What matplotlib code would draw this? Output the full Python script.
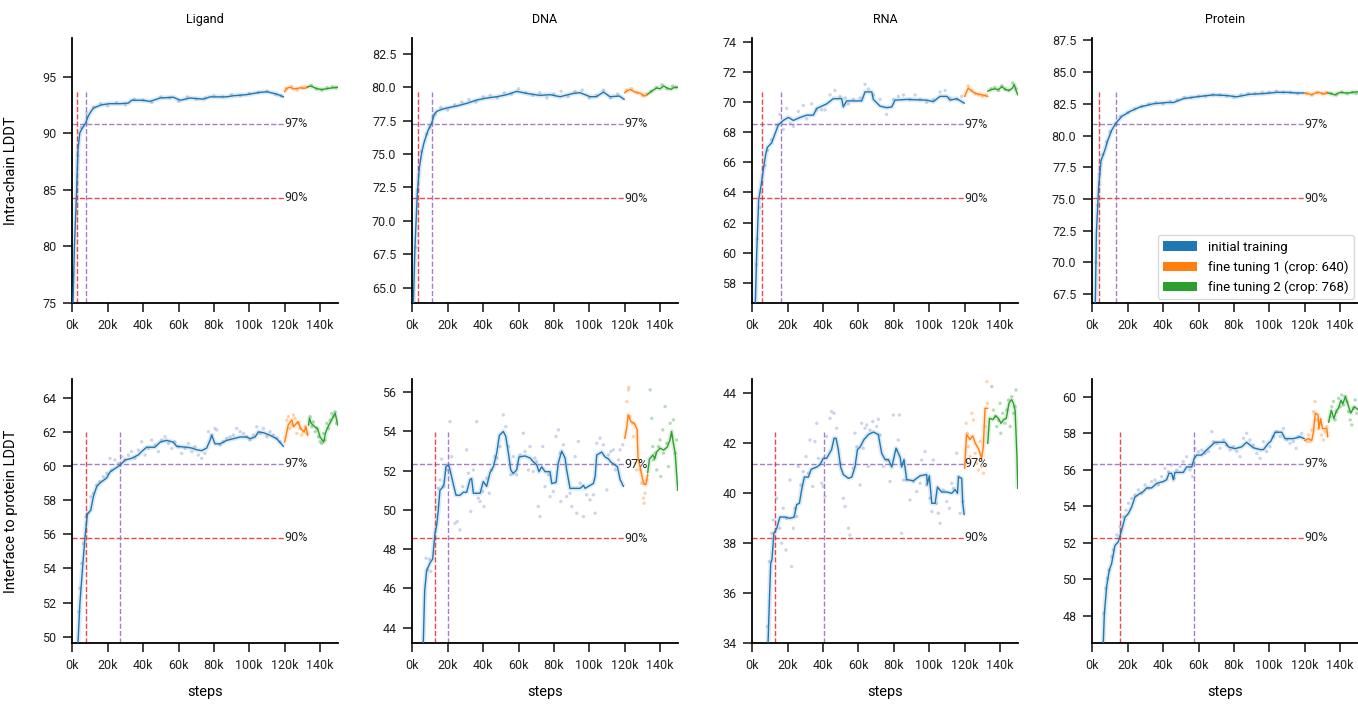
# 训练曲线: 各分子类型的 LDDT 随训练步数变化
import numpy as np
import matplotlib.pyplot as plt
from matplotlib.patches import Patch
from matplotlib.ticker import MultipleLocator, FuncFormatter

plt.rcParams['font.family'] = ['Roboto', 'DejaVu Sans']

# ---------------- 数据 (steps 单位: k) ----------------
# 上排: Intra-chain LDDT
lig_top_init = [(0.0, 70.0), (0.4, 75.0), (1.2, 80.0), (2.3, 84.3), (3.2, 88.5), (4.2, 90.0), (5.5, 90.4),
                (7.6, 90.9), (9.0, 91.5), (10.5, 91.9), (11.9, 92.2), (14, 92.35), (16.6, 92.5), (21, 92.6),
                (27, 92.6), (31.7, 92.65), (33.5, 92.9), (40, 92.9), (43.9, 92.8), (49.6, 93.1), (57, 93.17),
                (61, 92.9), (66.5, 93.1), (74, 93.0), (77.8, 93.2), (87, 93.2), (91, 93.3), (98.5, 93.4),
                (106, 93.6), (110, 93.65), (115.5, 93.45), (119.3, 93.2)]
lig_top_ft1 = [(120, 93.65), (121, 93.95), (123, 94.05), (125, 93.9), (127, 93.95), (129, 94.0), (131, 93.95), (133, 94.05)]
lig_top_ft2 = [(133, 94.1), (135, 94.15), (137, 94.0), (139, 93.9), (141, 93.85), (143, 93.9), (145, 93.95),
               (147, 94.0), (150, 94.05)]
lig_top_pts = [(3, 88.0), (5, 90.5), (8, 91.8), (12, 92.3), (16, 92.6), (20, 92.4), (25, 92.7), (30, 92.5), (35, 93.0),
               (40, 92.9), (45, 92.7), (50, 93.2), (55, 93.1), (60, 92.8), (65, 93.2), (70, 93.0), (75, 93.1),
               (80, 93.3), (85, 93.2), (90, 93.4), (95, 93.3), (100, 93.5), (105, 93.6), (110, 93.7), (115, 93.4),
               (118, 93.3)]
lig_top_pts_ft1 = [(121, 93.9), (124, 94.1), (127, 93.8), (130, 94.0), (132, 94.1)]
lig_top_pts_ft2 = [(135, 94.2), (138, 93.9), (141, 93.8), (144, 94.0), (147, 94.1), (149, 94.0)]

dna_top_init = [(0.0, 60.0), (0.6, 63.8), (1.5, 68.0), (2.8, 72.0), (4.0, 74.0), (5.3, 75.1), (6.5, 75.8), (7.7, 76.3),
                (9.0, 76.8), (10.9, 77.3), (12.5, 78.0), (13.8, 78.2), (16.5, 78.35), (19.4, 78.45), (25, 78.6),
                (30.7, 78.8), (36.4, 79.05), (42, 79.2), (47.7, 79.3), (53.3, 79.45), (59, 79.7), (64.6, 79.55),
                (72, 79.4), (77.8, 79.45), (83.5, 79.3), (91, 79.55), (94.8, 79.6), (100.4, 79.3), (104, 79.3),
                (108, 79.65), (111.7, 79.3), (117, 79.35), (119.7, 79.1)]
dna_top_ft1 = [(120, 79.6), (121.5, 79.75), (123, 79.85), (125, 79.7), (127, 79.6), (129, 79.55), (131, 79.35), (133, 79.45)]
dna_top_ft2 = [(133, 79.5), (135, 79.7), (138, 79.95), (140, 79.9), (142, 80.1), (144, 79.95), (146, 79.85),
               (148, 80.0), (150, 80.0)]
dna_top_pts = [(2, 68.0), (3, 72.3), (5, 75.2), (8, 76.5), (10, 77.0), (13, 78.0), (16, 78.5), (20, 78.3), (24, 78.7),
               (28, 78.9), (32, 79.1), (36, 78.9), (40, 79.3), (44, 79.4), (48, 79.2), (52, 79.6), (56, 79.5),
               (60, 79.9), (64, 79.6), (68, 79.4), (72, 79.6), (76, 79.2), (80, 79.5), (84, 79.7), (88, 79.3),
               (92, 79.7), (96, 79.8), (100, 79.2), (104, 79.4), (108, 79.8), (112, 79.2), (116, 79.5)]
dna_top_pts_ft1 = [(121, 79.8), (124, 79.9), (127, 79.6), (130, 79.4), (132, 79.5)]
dna_top_pts_ft2 = [(135, 79.7), (138, 80.0), (141, 80.2), (144, 79.9), (147, 80.1), (149, 80.0)]

rna_top_init = [(0.5, 50.0), (1.7, 56.6), (2.5, 60.0), (3.6, 63.5), (5.0, 64.5), (6.2, 65.5), (7.5, 66.5), (8.5, 67.0),
                (10.9, 67.3), (12.8, 67.9), (14.7, 68.5), (17.5, 68.8), (20.4, 69.0), (23.2, 68.8), (27, 69.0),
                (30.7, 69.15), (34.5, 69.15), (36.4, 69.6), (42, 69.9), (45.8, 70.25), (50.5, 70.25), (51.4, 69.7),
                (53.3, 70.1), (61.8, 70.1), (63.7, 70.7), (67.5, 70.7), (68.4, 70.2), (72.2, 69.75), (75.9, 69.65),
                (78.8, 69.7), (80.6, 70.15), (87.2, 70.2), (98.5, 70.15), (102.3, 70.05), (106, 70.4), (110, 70.4),
                (111.7, 70.15), (115.5, 70.25), (119.7, 69.95)]
rna_top_ft1 = [(120, 70.4), (121, 70.7), (122, 70.95), (124, 70.75), (126, 70.6), (128, 70.55), (130, 70.5), (133, 70.4)]
rna_top_ft2 = [(133, 70.75), (135, 70.85), (137, 70.9), (139, 70.85), (141, 71.05), (143, 70.85), (145, 70.8),
               (147, 70.95), (148, 71.2), (149, 70.8), (150, 70.5)]
rna_top_pts = [(2.4, 59.2), (2.8, 60.9), (4.3, 63.0), (5.3, 64.0), (7.2, 65.8), (8.5, 66.8), (10.9, 67.5), (13.8, 68.5),
               (15.6, 69.2), (17.5, 68.2), (19.4, 69.6), (21.3, 68.6), (23.2, 68.4), (26.0, 69.4), (28.8, 69.8),
               (30.7, 68.9), (33.5, 69.9), (36.4, 69.5), (39.2, 69.5), (41.1, 69.5), (43.9, 70.5), (46.7, 70.8),
               (49.6, 70.4), (52.4, 70.3), (54.3, 69.9), (57.1, 70.2), (60.9, 70.3), (63.7, 71.2), (65.6, 70.9),
               (68.4, 70.5), (72.2, 70.2), (75.9, 69.2), (79.7, 70.2), (82.5, 70.4), (85.4, 70.5), (89.1, 70.2),
               (92.0, 70.5), (94.8, 70.2), (98.5, 70.0), (102.3, 70.2), (106.1, 70.7), (108.9, 70.8), (111.7, 70.3),
               (115.5, 70.2), (118.3, 70.4)]
rna_top_pts_ft1 = [(122, 71.1), (124, 70.8), (126, 70.6), (128, 70.5), (130, 70.4), (132, 70.5)]
rna_top_pts_ft2 = [(135, 70.9), (137, 71.0), (139, 70.8), (141, 71.1), (143, 70.9), (145, 70.8), (147, 71.3), (149, 70.9)]

pro_top_init = [(0.5, 60.0), (1.7, 66.8), (2.3, 72.3), (3.6, 76.0), (4.9, 78.0), (7.2, 78.9), (8.7, 79.6), (10.9, 80.4),
                (13.2, 80.95), (16.6, 81.5), (21.3, 81.9), (27, 82.25), (34.5, 82.5), (42, 82.6), (45.8, 82.6),
                (51.4, 82.9), (59, 83.05), (68.4, 83.2), (75.9, 83.15), (81.6, 83.05), (89, 83.25), (96.7, 83.3),
                (104, 83.4), (110, 83.4), (115.5, 83.35), (119.7, 83.35)]
pro_top_ft1 = [(120, 83.35), (122, 83.3), (124, 83.2), (126, 83.35), (128, 83.4), (130, 83.3), (131, 83.25), (133, 83.4)]
pro_top_ft2 = [(133, 83.35), (135, 83.3), (137, 83.2), (139, 83.35), (141, 83.4), (143, 83.35), (145, 83.35),
               (147, 83.4), (150, 83.45)]
pro_top_pts = [(2, 70.0), (3, 74.5), (4, 77.0), (6, 78.5), (8, 79.5), (10, 80.3), (13, 80.9), (16, 81.5), (20, 81.8),
               (24, 82.1), (28, 82.3), (32, 82.5), (36, 82.6), (40, 82.5), (44, 82.7), (48, 82.8), (52, 83.0),
               (56, 83.0), (60, 83.1), (64, 83.1), (68, 83.2), (72, 83.2), (76, 83.1), (80, 83.0), (84, 83.2),
               (88, 83.3), (92, 83.3), (96, 83.4), (100, 83.4), (104, 83.5), (108, 83.4), (112, 83.4), (116, 83.3)]
pro_top_pts_ft1 = [(121, 83.3), (124, 83.2), (127, 83.4), (130, 83.3), (132, 83.4)]
pro_top_pts_ft2 = [(135, 83.3), (138, 83.2), (141, 83.4), (144, 83.3), (147, 83.4), (149, 83.3)]

# 下排: Interface to protein LDDT
lig_bot_init = [(2.5, 47.0), (3.2, 49.6), (4.3, 51.95), (5.7, 53.9), (7.2, 55.85), (8.5, 57.2), (10.4, 57.4),
                (11.9, 58.2), (13.8, 58.8), (15.6, 59.0), (19.4, 59.3), (21.3, 59.65), (24.1, 59.85), (27, 60.05),
                (29.8, 60.35), (33.5, 60.45), (37.3, 60.65), (39.2, 60.85), (42, 61.1), (46.7, 61.1), (49.6, 61.4),
                (53.3, 61.5), (57, 61.4), (59, 61.15), (64.6, 61.1), (67.5, 61.05), (70.3, 60.95), (73.1, 60.9),
                (75.9, 61.05), (77.8, 61.5), (78.8, 61.8), (80.6, 61.3), (83.5, 61.3), (87.2, 61.5), (91, 61.6),
                (94.8, 61.7), (98.5, 61.7), (100.4, 61.6), (103.3, 61.7), (105.1, 62.0), (108, 61.95), (111.7, 61.8),
                (115.5, 61.6), (119.3, 61.15)]
lig_bot_ft1 = [(120, 61.4), (122, 62.4), (124, 62.7), (125, 62.3), (127.5, 62.6), (129, 62.2), (131, 62.0),
               (132, 62.3), (133, 61.8)]
lig_bot_ft2 = [(133.5, 62.4), (134, 62.8), (135, 62.5), (137, 62.3), (138.5, 62.2), (140, 61.7), (142, 61.4),
               (143, 61.9), (144, 62.2), (146, 62.6), (148.5, 63.1), (150, 62.4)]
lig_bot_pts = [(3.6, 51.46), (4.3, 52.83), (5.3, 54.29), (6.2, 55.46), (7.7, 57.03), (9.0, 57.22), (10.4, 58.2),
               (11.9, 58.39), (13.8, 58.88), (15.6, 59.08), (17.5, 59.37), (19.4, 59.57), (21.3, 60.45), (22.2, 59.76),
               (24.1, 60.35), (26.0, 60.15), (27.9, 60.54), (29.8, 60.35), (31.7, 60.64), (33.5, 60.84), (35.4, 60.45),
               (37.3, 60.93), (39.2, 61.42), (41.1, 60.64), (43.0, 61.03), (44.8, 61.52), (46.7, 61.23), (48.6, 60.84),
               (50.5, 61.52), (52.4, 61.71), (54.3, 61.32), (56.2, 61.03), (58.0, 61.42), (59.9, 61.13), (61.8, 60.74),
               (63.7, 61.03), (65.6, 61.32), (67.5, 60.84), (69.3, 61.13), (71.2, 60.64), (73.1, 60.45), (75.0, 60.74),
               (76.9, 62.01), (78.8, 61.81), (80.6, 62.2), (81.6, 62.11), (83.5, 61.23), (85.4, 61.42), (87.2, 61.62),
               (89.1, 61.71), (91.0, 61.81), (92.9, 62.2), (94.8, 62.01), (96.7, 61.91), (98.5, 61.71), (100.4, 61.52),
               (102.3, 61.81), (104.2, 62.3), (106.1, 61.91), (108.0, 62.2), (109.9, 61.71), (111.7, 62.01),
               (113.6, 61.81), (115.5, 61.62), (117.4, 61.42)]
lig_bot_pts_ft1 = [(121.2, 62.69), (122.1, 62.89), (123.0, 62.2), (124.0, 62.4), (124.9, 62.98), (125.9, 62.79),
                   (126.8, 61.91), (127.8, 62.5), (128.7, 62.2), (129.6, 61.81), (130.6, 62.01), (131.5, 62.3),
                   (132.5, 61.91)]
lig_bot_pts_ft2 = [(134.4, 62.89), (135.3, 62.3), (136.2, 62.59), (137.2, 62.01), (138.1, 62.2), (139.1, 61.71),
                   (140.0, 61.42), (140.9, 61.32), (141.9, 61.91), (142.8, 61.52), (143.8, 62.5), (144.7, 62.2),
                   (145.7, 62.69), (146.6, 63.08), (147.5, 62.89), (148.5, 63.18), (149.4, 62.5)]

dna_bot_init = [(5.8, 42.0), (6.2, 43.2), (7.0, 45.9), (8.1, 46.9), (10.0, 47.3), (11.5, 47.5), (12.8, 48.8),
                (13.8, 49.25), (14.7, 50.0), (15.6, 51.0), (16.6, 51.1), (17.9, 51.3), (19.0, 52.2), (20.4, 52.3),
                (21.3, 52.05), (22.8, 51.45), (24.7, 50.75), (27, 50.75), (28.8, 50.9), (30.7, 50.9), (32.6, 51.55),
                (33.5, 51.6), (34.5, 50.85), (38.3, 50.85), (40.1, 51.45), (42, 51.2), (43.9, 51.9), (45.8, 52.2),
                (47.7, 52.9), (49.2, 53.8), (51.4, 54.0), (52.8, 53.75), (54.3, 52.9), (55.6, 52.05), (57, 51.85),
                (59, 52.05), (60.3, 52.7), (63.7, 52.75), (66.5, 52.65), (68.4, 52.45), (70.3, 52.3), (71.6, 51.95),
                (73.1, 52.2), (75, 51.95), (77.8, 51.95), (78.8, 51.35), (81.2, 51.4), (82.5, 52.4), (84.4, 53.0),
                (86.3, 52.65), (87.2, 52.05), (89.1, 51.1), (94.8, 51.1), (96.7, 51.25), (97.6, 51.1), (102.3, 51.35),
                (103.3, 51.7), (104.2, 52.8), (107, 52.95), (108.9, 52.7), (110.8, 52.6), (112.1, 52.45),
                (113.6, 52.35), (115.9, 52.2), (117.4, 51.55), (119.3, 51.2)]
dna_bot_ft1 = [(120, 53.65), (121, 54.1), (122, 54.85), (123.5, 54.5), (125.5, 54.4), (127, 54.1), (127.5, 52.7),
               (129, 52.05), (130, 51.6), (131, 51.3), (132, 51.3), (133, 51.8)]
dna_bot_ft2 = [(133, 51.9), (134, 52.6), (136, 52.8), (137, 52.6), (138, 52.95), (140, 53.15), (142, 53.05),
               (144, 53.2), (145.5, 53.55), (146.5, 54.0), (147.5, 53.4), (148.5, 52.9), (150, 51.0)]
dna_bot_pts = [(7.7, 47.54), (8.5, 46.94), (9.6, 47.49), (10.4, 46.86), (13.4, 50.17), (14.7, 51.11), (15.6, 51.53),
               (16.6, 52.59), (17.9, 51.19), (19.4, 52.04), (21.3, 54.5), (22.2, 52.72), (24.1, 49.32), (25.4, 49.41),
               (26.9, 48.98), (28.5, 51.19), (30.7, 53.06), (31.7, 51.87), (33.0, 49.92), (34.5, 52.04), (36.4, 54.5),
               (37.3, 50.6), (38.3, 50.43), (39.8, 50.94), (40.5, 50.17), (42.0, 51.62), (43.5, 50.85), (44.8, 52.04),
               (46.7, 52.72), (48.0, 52.64), (49.6, 53.23), (51.4, 54.84), (52.8, 54.25), (54.3, 53.23), (55.6, 51.79),
               (57.1, 52.72), (59.0, 51.79), (60.9, 52.81), (62.7, 53.91), (63.7, 52.98), (65.6, 52.04), (66.5, 53.23),
               (68.4, 51.96), (69.3, 52.64), (70.3, 52.47), (71.2, 50.17), (72.2, 49.66), (73.7, 53.23), (75.0, 51.19),
               (76.9, 51.79), (77.8, 50.68), (79.7, 50.94), (81.2, 53.74), (82.5, 54.08), (83.5, 52.89), (83.9, 50.43),
               (85.4, 53.32), (87.2, 50.68), (89.1, 50.85), (90.1, 50.17), (92.0, 52.72), (92.9, 49.83), (93.8, 53.49),
               (94.8, 51.36), (96.7, 49.66), (98.5, 50.77), (100.4, 50.51), (102.3, 50.77), (103.3, 49.83),
               (104.2, 53.4), (106.1, 53.66), (108.0, 53.32), (109.9, 51.02), (110.8, 52.81), (112.1, 52.98),
               (113.6, 53.06), (114.6, 52.04), (116.5, 52.55), (117.4, 53.06), (118.9, 53.32)]
dna_bot_pts_ft1 = [(121.2, 55.52), (122.1, 56.12), (122.3, 56.25), (123.0, 54.76), (124.6, 54.42), (124.9, 53.74),
                   (125.9, 52.38), (126.8, 52.04), (128.7, 52.04), (129.6, 51.36), (130.6, 50.6), (131.0, 50.34),
                   (131.5, 50.85), (132.5, 51.53)]
dna_bot_pts_ft2 = [(134.4, 56.12), (135.3, 54.67), (135.9, 53.23), (136.2, 52.55), (137.2, 52.89), (138.1, 52.04),
                   (139.1, 53.23), (140.0, 53.57), (140.4, 51.7), (141.5, 54.08), (141.9, 52.89), (142.8, 55.27),
                   (143.8, 53.4), (144.7, 52.21), (145.7, 54.42), (146.6, 53.74), (147.5, 54.59), (148.5, 52.89),
                   (149.4, 53.57)]

rna_bot_init = [(8.6, 33.0), (8.9, 34.0), (9.6, 35.6), (10.4, 37.2), (11.1, 37.35), (12.2, 38.4), (13.8, 38.6),
                (15.6, 39.05), (18.5, 39.05), (21.3, 39.0), (23.6, 39.05), (25.1, 39.55), (26.6, 39.6), (27.9, 40.15),
                (29.4, 40.65), (31.7, 40.65), (33.2, 40.95), (34.5, 41.0), (36.4, 41.05), (38.3, 41.15), (40.1, 41.4),
                (42, 41.4), (44.8, 41.75), (46.2, 42.2), (47.3, 42.2), (48.6, 41.75), (49.9, 41.05), (51.4, 40.75),
                (54.3, 40.6), (56.2, 40.65), (58, 41.05), (59.4, 41.75), (60.9, 41.85), (63.1, 42.15), (65.6, 42.35),
                (68.4, 42.45), (71.2, 42.35), (73.1, 41.6), (75, 41.35), (76.9, 41.35), (78.8, 41.05), (81.2, 41.8),
                (83.5, 41.45), (84.4, 41.05), (85.7, 41.35), (87.2, 40.55), (91, 40.5), (94.8, 40.7), (98.5, 40.75),
                (98.9, 40.35), (100, 40.7), (101.4, 39.6), (103.3, 39.6), (104.6, 40.25), (107, 40.05),
                (109.9, 40.05), (112.7, 40.0), (114.6, 40.15), (115.9, 40.0), (116.5, 40.65), (118.3, 40.6),
                (118.9, 39.6), (119.7, 39.15)]
rna_bot_ft1 = [(120, 41.0), (121, 42.35), (123, 42.15), (124.5, 42.3), (126, 42.0), (128, 41.75), (129.5, 41.4),
               (130.5, 41.85), (131.5, 43.4), (133, 43.4)]
rna_bot_ft2 = [(133, 42.0), (134, 43.0), (136, 42.95), (137.5, 43.1), (139, 43.0), (140.5, 42.8), (142, 42.95),
               (143.5, 43.0), (145, 43.6), (146.5, 43.75), (147.5, 43.6), (148.5, 43.3), (149.5, 41.5), (150, 40.2)]
rna_bot_pts = [(8.5, 34.67), (9.6, 37.27), (10.9, 38.4), (11.9, 38.93), (13.8, 39.8), (15.6, 38.6), (16.6, 38.0),
               (17.5, 39.4), (19.0, 37.73), (19.4, 39.0), (21.3, 40.53), (22.2, 37.07), (23.2, 38.6), (24.1, 39.4),
               (25.1, 39.07), (26.0, 41.07), (27.3, 40.33), (28.8, 40.87), (30.3, 41.47), (31.7, 40.8), (32.6, 42.13),
               (34.1, 40.27), (35.4, 42.07), (36.4, 42.8), (37.3, 41.4), (39.2, 40.4), (40.1, 40.27), (41.1, 39.87),
               (42.0, 42.27), (43.9, 43.0), (44.8, 43.27), (46.2, 43.2), (47.7, 42.6), (49.6, 41.2), (51.4, 39.8),
               (52.4, 39.47), (54.3, 38.6), (55.2, 38.33), (57.1, 41.0), (58.0, 42.4), (59.0, 41.87), (60.9, 40.33),
               (61.8, 42.8), (62.7, 41.8), (63.7, 42.6), (64.6, 42.73), (65.6, 41.07), (66.5, 42.53), (68.0, 42.87),
               (70.3, 42.67), (71.2, 42.96), (72.2, 42.33), (74.1, 41.07), (75.9, 41.33), (77.8, 40.47), (79.7, 43.13),
               (81.6, 41.73), (82.5, 42.13), (83.1, 43.13), (84.4, 38.4), (85.4, 40.53), (87.2, 40.53), (89.1, 39.73),
               (91.0, 40.47), (92.9, 40.07), (94.8, 40.4), (95.7, 41.33), (97.6, 41.67), (98.5, 40.33), (100.4, 39.8),
               (101.4, 39.27), (102.3, 41.33), (104.2, 39.6), (105.1, 39.2), (106.1, 38.8), (108.0, 40.13),
               (109.9, 39.67), (111.4, 39.4), (112.7, 40.4), (113.6, 40.2), (115.5, 41.6), (116.5, 40.67),
               (117.4, 39.2), (118.9, 39.67)]
rna_bot_pts_ft1 = [(120.8, 42.8), (121.5, 42.4), (122.1, 41.87), (123.0, 41.47), (124.0, 43.2), (124.9, 42.93),
                   (125.9, 41.6), (126.8, 41.2), (127.8, 40.93), (128.7, 42.07), (129.6, 41.07), (130.6, 40.8),
                   (131.5, 42.67), (132.5, 44.47), (132.8, 43.6)]
rna_bot_pts_ft2 = [(135.3, 44.27), (136.2, 43.33), (137.2, 43.07), (138.1, 42.67), (139.1, 42.93), (140.0, 43.6),
                   (140.4, 42.4), (141.5, 43.2), (142.8, 42.8), (143.8, 43.33), (144.7, 43.73), (145.7, 42.67),
                   (146.6, 43.87), (147.5, 43.2), (148.5, 43.47), (149.0, 44.13)]

pro_bot_init = [(6.0, 45.5), (6.2, 46.5), (6.8, 48.1), (8.1, 49.6), (9.6, 50.5), (10.9, 50.85), (12.8, 51.85),
                (14.7, 52.05), (16.6, 52.7), (18.5, 53.4), (20.4, 53.6), (22.2, 53.95), (24.1, 54.5), (27, 54.7),
                (28.8, 54.8), (30.7, 55.0), (33.5, 55.0), (36.4, 55.25), (40.1, 55.35), (42, 55.45), (43.3, 55.8),
                (44.8, 55.8), (45.8, 55.45), (46.7, 55.85), (51.4, 55.85), (53.3, 56.15), (56.2, 56.15), (57.5, 56.6),
                (59, 56.8), (61.8, 56.8), (63.7, 57.0), (66.5, 57.25), (69.3, 57.5), (75, 57.5), (76.9, 57.25),
                (80.6, 57.15), (84.4, 57.25), (87.2, 57.5), (89.1, 57.35), (91, 57.2), (94.8, 57.1), (96.7, 57.1),
                (99.5, 57.45), (100.8, 57.55), (103.3, 58.05), (107, 58.05), (108.9, 57.7), (113.6, 57.7),
                (117.4, 57.8), (119.7, 57.7)]
pro_bot_ft1 = [(120, 57.6), (122, 57.7), (124, 57.6), (125, 58.1), (126, 59.1), (127.5, 59.0), (128, 58.25),
               (129, 58.8), (130, 58.25), (132.5, 58.25), (133, 57.8)]
pro_bot_ft2 = [(133.5, 58.6), (135, 59.25), (136.5, 58.8), (138, 59.25), (139, 59.35), (140.5, 59.8), (141.5, 59.6),
               (143, 60.0), (144.5, 59.55), (146, 59.1), (148, 59.45), (150, 59.3)]
pro_bot_pts = [(6.6, 48.13), (7.7, 49.5), (8.5, 50.05), (9.6, 50.5), (10.9, 51.23), (11.9, 51.6), (13.8, 52.42),
               (15.6, 52.88), (17.5, 53.42), (19.0, 53.79), (20.4, 54.16), (22.2, 54.43), (24.1, 54.61), (26.0, 54.89),
               (27.9, 54.7), (29.8, 55.16), (31.7, 54.98), (33.5, 55.34), (35.4, 55.43), (37.3, 55.16), (39.2, 55.62),
               (41.1, 56.07), (43.0, 55.89), (44.8, 56.26), (46.2, 55.53), (47.7, 55.98), (49.6, 56.16), (51.4, 56.44),
               (53.3, 56.71), (55.2, 55.98), (56.7, 55.62), (58.0, 57.17), (59.9, 56.99), (61.8, 57.08), (63.7, 56.89),
               (65.6, 56.99), (67.5, 58.08), (68.4, 57.53), (70.3, 57.44), (72.2, 57.17), (74.1, 57.63), (75.9, 57.35),
               (77.8, 57.08), (79.7, 57.26), (81.6, 56.99), (83.5, 56.71), (85.4, 57.72), (87.2, 57.99), (89.1, 57.63),
               (91.0, 57.35), (92.9, 56.89), (94.8, 56.62), (96.7, 57.53), (98.5, 56.99), (100.4, 57.26),
               (102.3, 57.81), (104.2, 58.08), (106.1, 57.81), (108.0, 58.26), (109.9, 57.63), (111.7, 57.44),
               (113.6, 57.53), (115.1, 57.17), (116.5, 57.81), (118.3, 57.99)]
pro_bot_pts_ft1 = [(121.2, 57.53), (122.1, 57.9), (123.0, 57.53), (124.0, 58.17), (124.9, 59.18), (125.9, 59.73),
                   (126.8, 58.72), (127.8, 58.26), (128.7, 58.54), (129.6, 57.9), (130.6, 57.63), (131.5, 58.08),
                   (132.5, 58.36)]
pro_bot_pts_ft2 = [(134.4, 58.9), (135.3, 59.45), (136.2, 59.73), (137.2, 58.72), (138.1, 59.18), (139.1, 59.91),
                   (140.0, 59.45), (140.9, 60.09), (141.9, 59.54), (142.8, 60.0), (143.8, 59.73), (144.7, 59.18),
                   (145.7, 58.72), (146.6, 58.45), (147.5, 59.36), (148.5, 59.82), (149.4, 59.09)]

# 100% 参考值, 达到 90% / 97% 的步数 (k)
ref_values = [93.65, 79.66, 70.68, 83.4, 61.98, 53.95, 42.46, 58.07]
steps_90 = [2.5, 3.0, 5.3, 4.0, 7.6, 12.8, 12.8, 15.8]
steps_97 = [7.6, 11.1, 16.4, 13.3, 26.9, 20.0, 40.4, 57.3]

titles = ['Ligand', 'DNA', 'RNA', 'Protein']
ylims = [(75, 98.4), (63.84, 83.7), (56.64, 74.29), (66.81, 87.68),
         (49.61, 65.08), (43.2, 56.66), (34.0, 44.56), (46.49, 60.95)]
ysteps = [5, 2.5, 2, 2.5, 2, 2, 2, 2]

panels = [
    (lig_top_init, lig_top_ft1, lig_top_ft2, lig_top_pts, lig_top_pts_ft1, lig_top_pts_ft2),
    (dna_top_init, dna_top_ft1, dna_top_ft2, dna_top_pts, dna_top_pts_ft1, dna_top_pts_ft2),
    (rna_top_init, rna_top_ft1, rna_top_ft2, rna_top_pts, rna_top_pts_ft1, rna_top_pts_ft2),
    (pro_top_init, pro_top_ft1, pro_top_ft2, pro_top_pts, pro_top_pts_ft1, pro_top_pts_ft2),
    (lig_bot_init, lig_bot_ft1, lig_bot_ft2, lig_bot_pts, lig_bot_pts_ft1, lig_bot_pts_ft2),
    (dna_bot_init, dna_bot_ft1, dna_bot_ft2, dna_bot_pts, dna_bot_pts_ft1, dna_bot_pts_ft2),
    (rna_bot_init, rna_bot_ft1, rna_bot_ft2, rna_bot_pts, rna_bot_pts_ft1, rna_bot_pts_ft2),
    (pro_bot_init, pro_bot_ft1, pro_bot_ft2, pro_bot_pts, pro_bot_pts_ft1, pro_bot_pts_ft2),
]

# ---------------- 画图 ----------------
c_blue, c_orange, c_green = '#1f77b4', '#ff7f0e', '#2ca02c'
c_red, c_purple = '#e8282b', '#9467bd'
pt_colors = ['#7585c0', c_orange, c_green]

fig = plt.figure(figsize=(13.58, 7.04), dpi=100)
W, H = 1358, 704
lefts = [72.3, 412.3, 752.3, 1092.3]
tops = [38, 379.3]
bottoms = [303, 643.3]

for i, data in enumerate(panels):
    row, col = divmod(i, 4)
    ax = fig.add_axes([lefts[col] / W, (H - bottoms[row]) / H, 265.5 / W, (bottoms[row] - tops[row]) / H])
    lines, pts = data[:3], data[3:]
    for seg, c in zip(pts, pt_colors):
        a = np.array(seg)
        ax.scatter(a[:, 0], a[:, 1], s=6, color=c, alpha=0.35, edgecolors='none', zorder=1)
    for seg, c in zip(lines, [c_blue, c_orange, c_green]):
        a = np.array(seg)
        ax.plot(a[:, 0], a[:, 1], color=c, lw=3.5, alpha=0.15, zorder=2, solid_capstyle='butt')
        ax.plot(a[:, 0], a[:, 1], color=c, lw=1.0, zorder=3)

    ref = ref_values[i]
    y0 = ylims[i][0]
    ax.plot([0, 120], [0.9 * ref] * 2, ls='--', color=c_red, lw=1, alpha=0.85, zorder=2)
    ax.plot([0, 120], [0.97 * ref] * 2, ls='--', color=c_purple, lw=1, alpha=0.85, zorder=2)
    ax.plot([steps_90[i]] * 2, [y0, ref], ls='--', color=c_red, lw=1, alpha=0.85, zorder=2)
    ax.plot([steps_97[i]] * 2, [y0, ref], ls='--', color=c_purple, lw=1, alpha=0.85, zorder=2)
    ax.text(120, 0.9 * ref, '90%', fontsize=9, va='center', ha='left', color='#222222')
    ax.text(120, 0.97 * ref, '97%', fontsize=9, va='center', ha='left', color='#222222')

    ax.set_xlim(0, 150)
    ax.set_ylim(*ylims[i])
    ax.xaxis.set_major_locator(MultipleLocator(20))
    ax.xaxis.set_major_formatter(FuncFormatter(lambda v, p: f'{v:.0f}k'))
    ax.yaxis.set_major_locator(MultipleLocator(ysteps[i]))
    if ysteps[i] == 2.5:
        ax.yaxis.set_major_formatter(FuncFormatter(lambda v, p: f'{v:.1f}'))
    else:
        ax.yaxis.set_major_formatter(FuncFormatter(lambda v, p: f'{v:.0f}'))
    for s in ['top', 'right']:
        ax.spines[s].set_visible(False)
    for s in ['left', 'bottom']:
        ax.spines[s].set_linewidth(1.3)
    ax.tick_params(labelsize=9, length=6.5, width=1.2, pad=5, colors='#222222')

    if row == 0:
        ax.set_title(titles[col], fontsize=9, pad=11)
    else:
        ax.set_xlabel('steps', fontsize=10.5, labelpad=9)
    if col == 0:
        ax.set_ylabel('Intra-chain LDDT' if row == 0 else 'Interface to protein LDDT', fontsize=10.5)
        ax.yaxis.set_label_coords(-0.205, 0.5)
    if i == 3:
        handles = [Patch(facecolor=c_blue), Patch(facecolor=c_orange), Patch(facecolor=c_green)]
        ax.legend(handles, ['initial training', 'fine tuning 1 (crop: 640)', 'fine tuning 2 (crop: 768)'],
                  loc='lower right', fontsize=9.5, handlelength=2.6, borderaxespad=0.3, edgecolor='#d0d0d0')

fig.savefig('out.png', dpi=100)
